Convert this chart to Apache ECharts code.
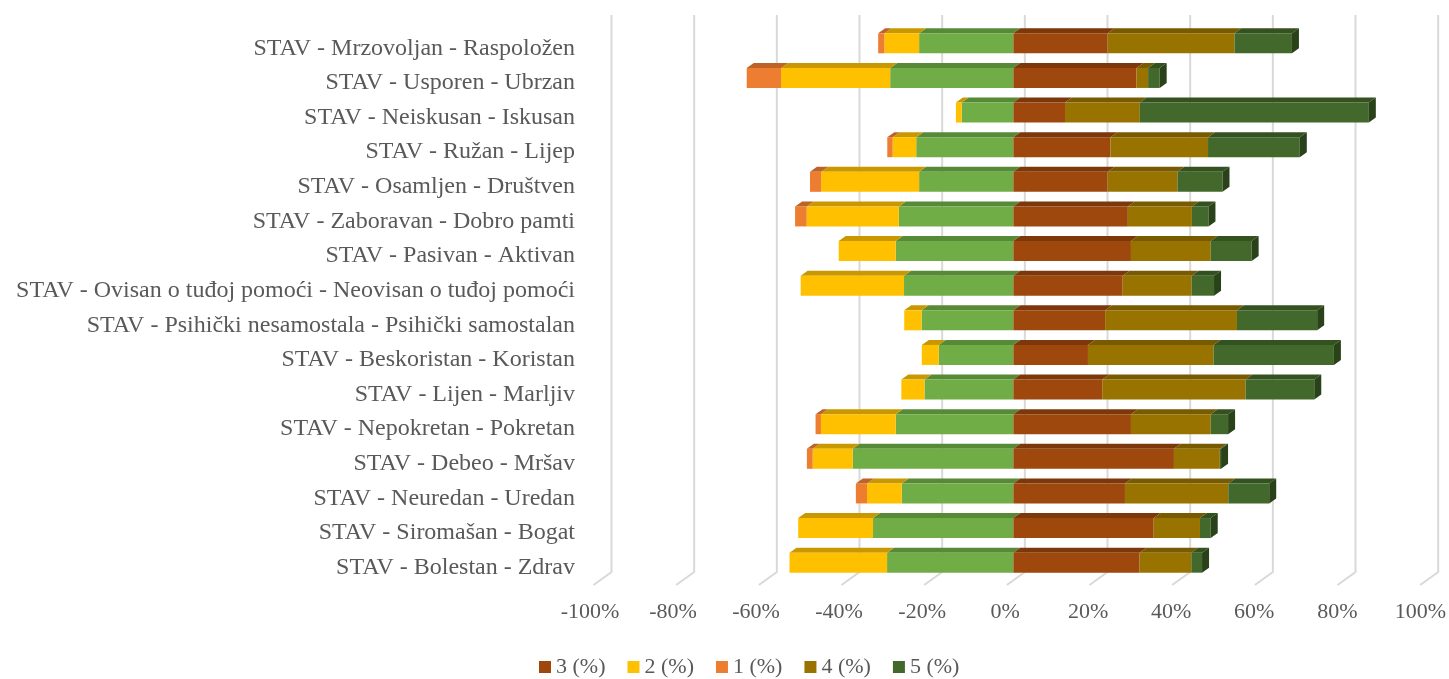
<!DOCTYPE html>
<html>
<head>
<meta charset="utf-8">
<script src="https://cdn.jsdelivr.net/npm/echarts@6/dist/echarts.min.js"></script>
<style>html,body{margin:0;padding:0;background:#fff}#c{width:1449px;height:679px}</style>
</head>
<body>
<div id="c"></div>
<script>
const categories = [
  'STAV - Mrzovoljan - Raspoložen',
  'STAV - Usporen - Ubrzan',
  'STAV - Neiskusan - Iskusan',
  'STAV - Ružan - Lijep',
  'STAV - Osamljen - Društven',
  'STAV - Zaboravan - Dobro pamti',
  'STAV - Pasivan - Aktivan',
  'STAV - Ovisan o tuđoj pomoći - Neovisan o tuđoj pomoći',
  'STAV - Psihički nesamostala - Psihički samostalan',
  'STAV - Beskoristan - Koristan',
  'STAV - Lijen - Marljiv',
  'STAV - Nepokretan - Pokretan',
  'STAV - Debeo - Mršav',
  'STAV - Neuredan - Uredan',
  'STAV - Siromašan - Bogat',
  'STAV - Bolestan - Zdrav'
];
const val1 = [1.5, 8.3, 0, 1.3, 2.7, 2.8, 0, 0, 0, 0, 0, 1.3, 1.4, 2.7, 0, 0];
const val2 = [8.4, 26.4, 1.4, 5.7, 23.7, 22.3, 13.8, 25.0, 4.2, 4.1, 5.6, 18.1, 9.7, 8.4, 18.1, 23.6];
const val3 = [45.6, 59.6, 25.0, 47.0, 45.6, 55.4, 56.9, 52.9, 44.4, 36.1, 43.0, 56.9, 77.7, 54.0, 67.9, 61.1];
const val4 = [30.7, 2.8, 18.1, 23.6, 16.9, 15.5, 19.3, 16.7, 31.9, 30.4, 34.7, 19.3, 11.1, 25.0, 11.2, 12.5];
const val5 = [13.9, 2.8, 55.4, 22.2, 10.9, 4.0, 9.9, 5.4, 19.4, 29.1, 16.6, 4.2, 0.3, 9.9, 2.6, 2.6];
const tickValues = [-100, -80, -60, -40, -20, 0, 20, 40, 60, 80, 100];
const legendNames = ['3 (%)', '2 (%)', '1 (%)', '4 (%)', '5 (%)'];

const FONT = 'Liberation Serif';
const TXT = '#595959';

// segment extents (diverging: half of "3" goes to each side)
const seg = {
  g3n: categories.map((c, i) => [-val3[i] / 2, 0, i]),
  s2: categories.map((c, i) => [-val3[i] / 2 - val2[i], -val3[i] / 2, i]),
  s1: categories.map((c, i) => [-val3[i] / 2 - val2[i] - val1[i], -val3[i] / 2 - val2[i], i]),
  s3: categories.map((c, i) => [0, val3[i] / 2, i]),
  s4: categories.map((c, i) => [val3[i] / 2, val3[i] / 2 + val4[i], i]),
  s5: categories.map((c, i) => [val3[i] / 2 + val4[i], val3[i] / 2 + val4[i] + val5[i], i])
};

function barSeries(name, data, front, top, side) {
  return {
    type: 'custom', name: name, xAxisIndex: 0, yAxisIndex: 0, z: 3,
    itemStyle: { color: front },
    encode: { x: [0, 1], y: 2 },
    data: data,
    renderItem: function (params, api) {
      const a = api.coord([api.value(0), api.value(2)]);
      const b = api.coord([api.value(1), api.value(2)]);
      const x0 = Math.min(a[0], b[0]), x1 = Math.max(a[0], b[0]);
      if (x1 - x0 < 0.01) return null;
      const h = 20, dx = 7, dy = 5;
      const yt = a[1] - 5 - h / 2;
      const ch = [
        { type: 'polygon', shape: { points: [[x0, yt], [x1, yt], [x1 + dx, yt - dy], [x0 + dx, yt - dy]] }, style: { fill: top } },
        { type: 'rect', shape: { x: x0, y: yt, width: x1 - x0, height: h }, style: { fill: front } }
      ];
      if (side) {
        ch.push({ type: 'polygon', shape: { points: [[x1, yt], [x1 + dx, yt - dy], [x1 + dx, yt - dy + h], [x1, yt + h]] }, style: { fill: side } });
      }
      return { type: 'group', children: ch };
    }
  };
}

const chart = echarts.init(document.getElementById('c'), null, { renderer: 'canvas' });
chart.setOption({
  animation: false,
  backgroundColor: '#ffffff',
  grid: [
    { left: 600, width: 826.7, top: 31, height: 554 },
    { left: 590, width: 833, top: 31, height: 570 }
  ],
  xAxis: [
    { type: 'value', gridIndex: 0, min: -100, max: 100, interval: 20,
      axisLine: { show: false }, axisTick: { show: false }, axisLabel: { show: false }, splitLine: { show: false } },
    { type: 'value', gridIndex: 1, min: -100, max: 100, interval: 20,
      axisLine: { show: false }, axisTick: { show: false }, splitLine: { show: false },
      axisLabel: { margin: 0, formatter: '{value}%', fontFamily: FONT, fontSize: 22, color: TXT } }
  ],
  yAxis: [
    { type: 'category', gridIndex: 0, data: categories, inverse: true,
      axisLine: { show: false }, axisTick: { show: false }, splitLine: { show: false },
      axisLabel: { margin: 25, fontFamily: FONT, fontSize: 24, color: TXT } },
    { type: 'value', gridIndex: 1, show: false }
  ],
  legend: {
    data: legendNames, left: 534, top: 651, icon: 'rect', itemWidth: 12, itemHeight: 12, itemGap: 22,
    textStyle: { fontFamily: FONT, fontSize: 22, color: TXT }
  },
  series: [
    {
      type: 'custom', name: 'grid', xAxisIndex: 0, yAxisIndex: 0, z: 1, silent: true,
      encode: { x: 0 },
      data: tickValues.map(v => [v]),
      renderItem: function (params, api) {
        const x = api.coord([api.value(0), 0])[0] + 11.5;
        return { type: 'polyline', shape: { points: [[x, 15], [x, 572], [x - 18, 585]] },
          style: { stroke: '#d9d9d9', lineWidth: 2, fill: null } };
      }
    },
    barSeries('3 (%) neg', seg.g3n, '#70AD47', '#578A37', null),
    barSeries('2 (%)', seg.s2, '#FFC000', '#C99800', null),
    barSeries('1 (%)', seg.s1, '#ED7D31', '#BD6326', null),
    barSeries('3 (%)', seg.s3, '#9E480E', '#7C380B', null),
    barSeries('4 (%)', seg.s4, '#997300', '#785A00', null),
    barSeries('5 (%)', seg.s5, '#43682B', '#345120', '#2A4219')
  ]
});
</script>
</body>
</html>
